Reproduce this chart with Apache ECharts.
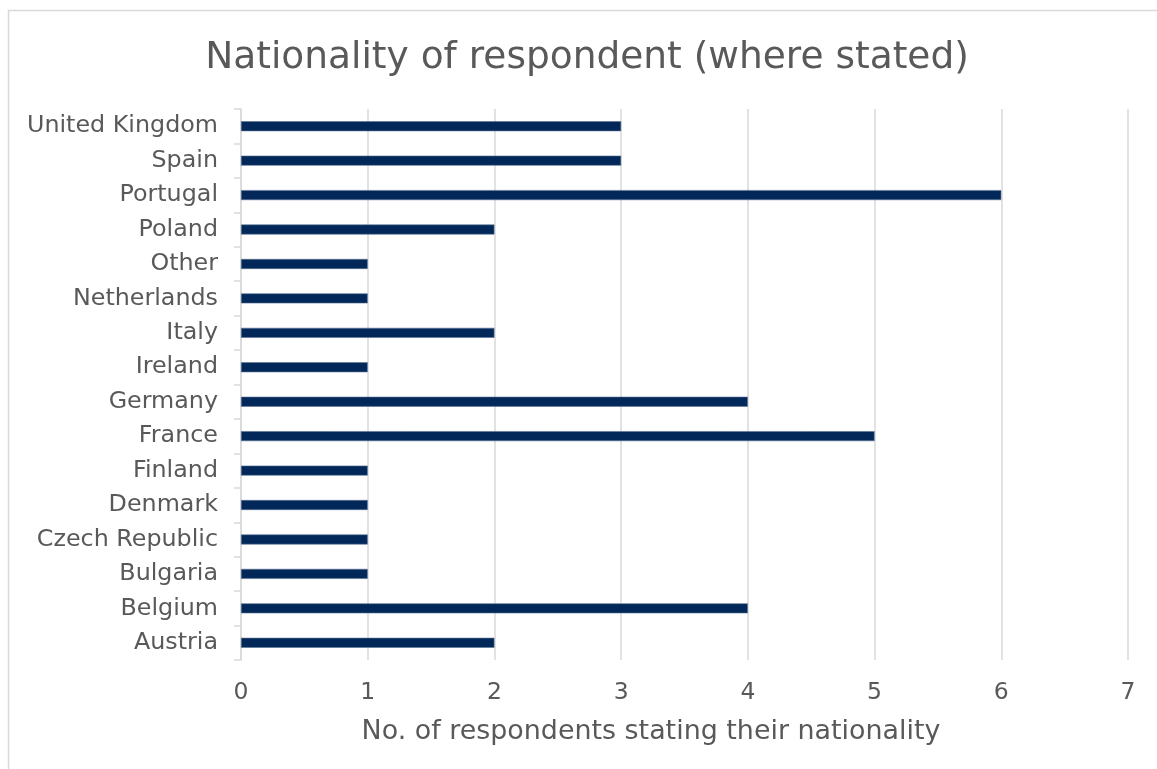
<!DOCTYPE html>
<html><head><meta charset="utf-8">
<script src="https://cdn.jsdelivr.net/npm/echarts@6/dist/echarts.min.js"></script>
<style>html,body{margin:0;padding:0;background:#fff}#c{width:1157px;height:769px}</style>
</head><body><div id="c"></div>
<script>
const categories = ["Austria","Belgium","Bulgaria","Czech Republic","Denmark","Finland","France","Germany","Ireland","Italy","Netherlands","Other","Poland","Portugal","Spain","United Kingdom"];
const values = [2,4,1,1,1,1,5,4,1,2,1,1,2,6,3,3];
const titleText = "Nationality of respondent (where stated)";
const xAxisName = "No. of respondents stating their nationality";

const font = "'DejaVu Sans', Verdana, sans-serif";
const chart = echarts.init(document.getElementById('c'));
chart.setOption({
  animation: false,
  backgroundColor: '#fff',
  graphic: [{type:'rect', shape:{x:8.5,y:10.5,width:1300,height:900}, style:{fill:'none', stroke:'#d9d9d9', lineWidth:1.5}, silent:true}],
  title: [
    {text: titleText, left: 582, top: 34, textAlign: 'center',
     textStyle:{fontFamily:font, fontSize:37.5, fontWeight:'normal', color:'#595959'}},
    {text: xAxisName, left: 646, top: 714, textAlign: 'center',
     textStyle:{fontFamily:font, fontSize:26.9, fontWeight:'normal', color:'#595959'}}
  ],
  grid: {left: 241, right: 29, top: 109, bottom: 109, containLabel: false},
  xAxis: {
    type: 'value', min: 0, max: 7, interval: 1,
    axisLine:{show:false}, axisTick:{show:false},
    splitLine:{show:true, lineStyle:{color:'#d9d9d9', width:1.5}},
    axisLabel:{fontFamily:font, fontSize:23.5, color:'#595959', margin:21}
  },
  yAxis: {
    type: 'category', data: categories,
    axisLine:{show:true, lineStyle:{color:'#d9d9d9', width:1.5}},
    axisTick:{show:true, length:7, lineStyle:{color:'#d9d9d9', width:1.5}},
    axisLabel:{fontFamily:font, fontSize:23.8, color:'#595959', margin:23, padding:[4,0,0,0]}
  },
  series: [{
    type:'bar', data: values, barWidth: 10,
    itemStyle:{color:'#022859', borderColor:'#5a7396', borderWidth:0.6}
  }]
});
</script></body></html>
